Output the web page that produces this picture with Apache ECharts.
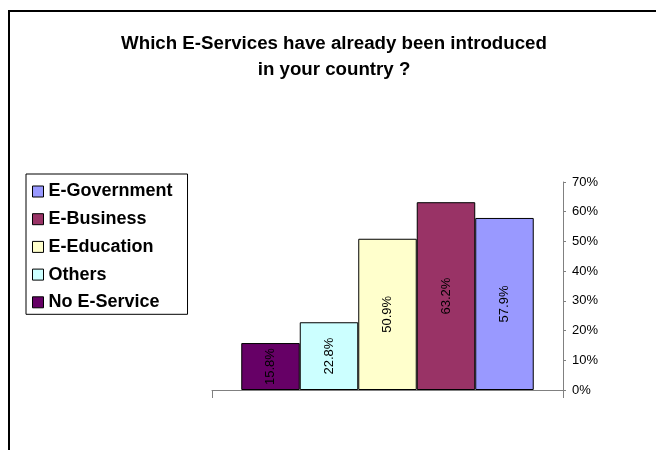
<!DOCTYPE html>
<html>
<head>
<meta charset="utf-8">
<script src="https://cdn.jsdelivr.net/npm/echarts@6/dist/echarts.min.js"></script>
<style>
  html, body { margin: 0; padding: 0; background: #fff; }
  #chart { width: 656px; height: 450px; }
</style>
</head>
<body>
<div id="chart"></div>
<script>
// Share of respondents reporting each e-service as introduced (%)
const services = ['No E-Service', 'Others', 'E-Education', 'E-Business', 'E-Government'];
const shares = [15.8, 22.8, 50.9, 63.2, 57.9];
const colors = ['#660066', '#CCFFFF', '#FFFFCC', '#993366', '#9999FF'];
const legendOrder = ['E-Government', 'E-Business', 'E-Education', 'Others', 'No E-Service'];
const yTicks = [0, 10, 20, 30, 40, 50, 60, 70];

const FONT = 'Arial, "Liberation Sans", sans-serif';
const chart = echarts.init(document.getElementById('chart'), null, { renderer: 'canvas' });

const series = services.map((name, i) => ({
  name: name,
  type: 'bar',
  data: [shares[i]],
  barGap: '0%',
  barCategoryGap: '16.67%',
  itemStyle: { color: colors[i], borderColor: '#000', borderWidth: 1 },
  label: {
    show: true,
    position: 'inside',
    rotate: 90,
    formatter: p => p.value.toFixed(1) + '%',
    fontFamily: FONT,
    fontSize: 13,
    color: '#000'
  },
  emphasis: { disabled: true },
  animation: false
}));

chart.setOption({
  animation: false,
  title: {
    text: 'Which E-Services have already been introduced\nin your country ?',
    left: 334,
    top: 31,
    textAlign: 'center',
    padding: 0,
    textStyle: {
      fontFamily: FONT,
      fontSize: 18.7,
      fontWeight: 'bold',
      color: '#000',
      lineHeight: 26
    }
  },
  legend: {
    data: legendOrder,
    orient: 'vertical',
    left: 26,
    top: 174,
    padding: [8.5, 15, 3, 6],
    itemGap: 9.7,
    itemWidth: 11,
    itemHeight: 11,
    icon: 'rect',
    borderColor: '#000',
    borderWidth: 1,
    backgroundColor: '#fff',
    itemStyle: { borderColor: '#000', borderWidth: 1 },
    selectedMode: false,
    textStyle: {
      fontFamily: FONT,
      fontSize: 18,
      fontWeight: 'bold',
      color: '#000',
      lineHeight: 17,
      height: 17
    }
  },
  grid: { left: 212, right: 93, top: 182, bottom: 60 },
  xAxis: {
    type: 'category',
    data: [''],
    boundaryGap: true,
    axisLine: { show: true, lineStyle: { color: '#808080', width: 1 } },
    axisTick: { show: true, length: 8, inside: false, lineStyle: { color: '#808080' } },
    axisLabel: { show: false },
    splitLine: { show: false }
  },
  yAxis: {
    type: 'value',
    position: 'right',
    min: yTicks[0],
    max: yTicks[yTicks.length - 1],
    interval: 10,
    axisLine: { show: true, lineStyle: { color: '#808080', width: 1 } },
    axisTick: { show: true, length: 3, lineStyle: { color: '#808080' } },
    axisLabel: {
      formatter: v => v + '%',
      margin: 9,
      fontFamily: FONT,
      fontSize: 13,
      color: '#000'
    },
    splitLine: { show: false }
  },
  graphic: [{
    type: 'rect',
    silent: true,
    z: -10,
    shape: { x: 9, y: 11, width: 700, height: 500 },
    style: { fill: 'none', stroke: '#000', lineWidth: 2 }
  }],
  series: series
});
</script>
</body>
</html>
